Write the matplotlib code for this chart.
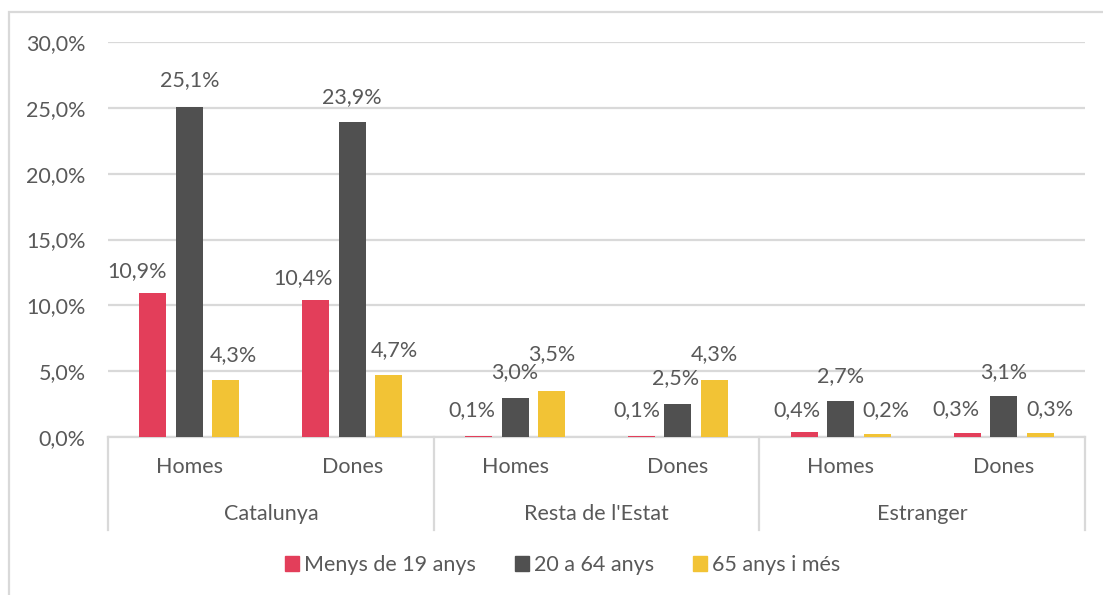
import numpy as np
import matplotlib
matplotlib.use('Agg')
import matplotlib.pyplot as plt
import matplotlib.transforms as mtransforms
from matplotlib.patches import Patch, Rectangle

# Data
regions = ['Catalunya', "Resta de l'Estat", 'Estranger']
sexes = ['Homes', 'Dones']
series_names = ['Menys de 19 anys', '20 a 64 anys', '65 anys i més']
menys19 = [10.9, 10.4, 0.1, 0.1, 0.4, 0.3]
de20a64 = [25.1, 23.9, 3.0, 2.5, 2.7, 3.1]
mes65 = [4.3, 4.7, 3.5, 4.3, 0.2, 0.3]
yticks = [0, 5, 10, 15, 20, 25, 30]

colors = ['#E33E5A', '#505050', '#F2C335']
text_col = '#595959'
grid_col = '#D9D9D9'
fs = 15.5

# label nudges in pixels (dx, dy) per series, per bar
label_dx = [[-16, -13, -7, -5, -7, -11],
            [0, 0, 0, -2, 0, 0],
            [7, 6, 0, 0, 9, 10]]
label_dy = [[22, 22, 26, 26, 22, 24],
            [26, 25, 25, 26, 25, 24],
            [25, 25, 37, 26, 24, 24]]

plt.rcParams['font.family'] = ['Lato', 'DejaVu Sans']
fig = plt.figure(figsize=(11.03, 5.95), dpi=100)
ax = fig.add_axes([108 / 1103, 1 - 437 / 595, (1085 - 108) / 1103, 395 / 595])

x = np.arange(6)
width = 0.166
offs = [-0.224, 0, 0.224]
for i, vals in enumerate([menys19, de20a64, mes65]):
    bars = ax.bar(x + offs[i], vals, width, color=colors[i], zorder=3)
    for j, b in enumerate(bars):
        txt = f'{vals[j]:.1f}%'.replace('.', ',')
        ax.annotate(txt, (b.get_x() + b.get_width() / 2, b.get_height()),
                    xytext=(label_dx[i][j], label_dy[i][j]), textcoords='offset pixels',
                    ha='center', va='center', fontsize=fs, color=text_col)

ax.set_xlim(-0.5, 5.5)
ax.set_ylim(0, 30)
ax.set_yticks(yticks)
ax.set_yticklabels([f'{t:.1f}%'.replace('.', ',') for t in yticks], fontsize=fs, color=text_col)
ax.tick_params(axis='y', length=0, pad=16)
ax.set_xticks([])
ax.grid(axis='y', color=grid_col, linewidth=1.6, zorder=0)
for s in ['top', 'right', 'left']:
    ax.spines[s].set_visible(False)
ax.spines['bottom'].set_color(grid_col)
ax.spines['bottom'].set_linewidth(1.6)

# hierarchical category axis
trans = mtransforms.blended_transform_factory(ax.transData, ax.transAxes)
for k in range(6):
    ax.text(k, -0.076, sexes[k % 2], transform=trans, ha='center', va='center',
            fontsize=fs, color=text_col)
for r, name in enumerate(regions):
    ax.text(2 * r + 0.5, -0.195, name, transform=trans, ha='center', va='center',
            fontsize=fs, color=text_col)
for xs in [-0.5, 1.5, 3.5, 5.5]:
    ax.plot([xs, xs], [0, -0.235], transform=trans, color=grid_col, linewidth=1.6,
            clip_on=False)

handles = [Patch(color=c, label=n) for c, n in zip(colors, series_names)]
leg = fig.legend(handles=handles, loc='center', bbox_to_anchor=(0.51, 1 - 565 / 595),
                 ncol=3, frameon=False, fontsize=fs, handlelength=0.65, handleheight=0.65,
                 handletextpad=0.25, columnspacing=1.8)
for t in leg.get_texts():
    t.set_color(text_col)

# outer chart border
fig.patches.append(Rectangle((9 / 1103, -0.1), 1.2, 1.1 - 12 / 595, transform=fig.transFigure,
                             fill=False, edgecolor=grid_col, linewidth=1.6))

fig.savefig('out.png', dpi=100, facecolor='white')
